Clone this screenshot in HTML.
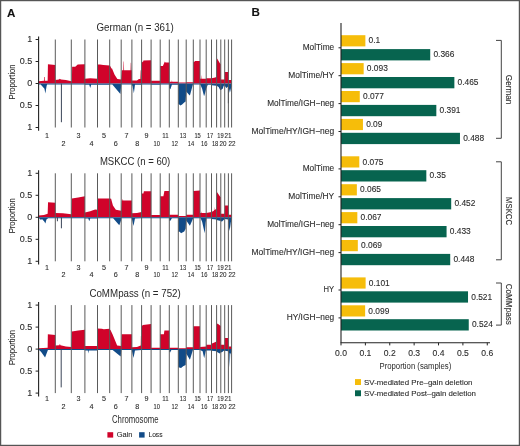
<!DOCTYPE html><html><head><meta charset="utf-8"><style>html,body{margin:0;padding:0;background:#fff;overflow:hidden}svg{display:block;filter:blur(0.3px)}</style></head><body>
<svg width="520" height="446" viewBox="0 0 520 446" font-family="Liberation Sans, sans-serif">
<style>text{stroke:#2a2a2a;stroke-width:0.1px;paint-order:stroke}text.n{stroke:none}</style>
<rect x="0" y="0" width="520" height="446" fill="#fff"/>
<rect x="0.6" y="0.6" width="518.8" height="444.8" fill="none" stroke="#555" stroke-width="1.25"/>
<text x="7.1" y="16.5" font-size="11.6" font-weight="bold" fill="#111">A</text>
<text x="251.6" y="16.2" font-size="11.6" font-weight="bold" fill="#111">B</text>
<text x="135.10" y="30.90" font-size="10.1" fill="#2a2a2a" text-anchor="middle" textLength="77.2" lengthAdjust="spacingAndGlyphs" class="n">German (n = 361)</text>
<text transform="translate(14.6,81.95) rotate(-90)" font-size="9" fill="#2a2a2a" text-anchor="middle" textLength="34.9" lengthAdjust="spacingAndGlyphs">Proportion</text>
<text x="32.30" y="42.30" font-size="9.0" fill="#2a2a2a" text-anchor="end">1</text>
<line x1="35.6" y1="39.50" x2="38.6" y2="39.50" stroke="#222222" stroke-width="1"/>
<text x="32.30" y="64.30" font-size="9.0" fill="#2a2a2a" text-anchor="end">0.5</text>
<line x1="35.6" y1="61.50" x2="38.6" y2="61.50" stroke="#222222" stroke-width="1"/>
<text x="32.30" y="86.30" font-size="9.0" fill="#2a2a2a" text-anchor="end">0</text>
<line x1="35.6" y1="83.50" x2="38.6" y2="83.50" stroke="#222222" stroke-width="1"/>
<text x="32.30" y="108.30" font-size="9.0" fill="#2a2a2a" text-anchor="end">0.5</text>
<line x1="35.6" y1="105.50" x2="38.6" y2="105.50" stroke="#222222" stroke-width="1"/>
<text x="32.30" y="130.30" font-size="9.0" fill="#2a2a2a" text-anchor="end">1</text>
<line x1="35.6" y1="127.50" x2="38.6" y2="127.50" stroke="#222222" stroke-width="1"/>
<path d="M38.60,83.50L38.60,81.30L43.97,80.86L44.07,76.90L44.66,76.90L44.76,80.86L47.65,80.86L47.94,64.14L55.30,65.02L55.30,79.98L58.90,79.54L59.90,78.66L60.90,79.54L65.90,79.98L71.30,81.30L71.30,81.30L71.92,81.30L72.13,66.78L75.25,66.78L77.74,64.58L84.90,64.14L84.90,78.66L90.23,78.22L97.50,78.66L97.50,64.58L99.92,64.58L103.31,65.02L109.70,65.46L109.70,65.46L110.61,66.78L111.62,68.98L111.92,67.66L112.22,68.98L114.64,74.70L117.37,79.10L121.20,79.54L121.20,79.10L122.02,70.30L123.36,70.30L123.57,61.50L123.88,61.50L124.08,70.30L130.56,70.30L130.77,62.82L131.08,62.82L131.28,70.30L131.90,70.30L131.90,80.42L136.95,80.42L138.93,79.10L140.21,79.10L140.41,70.30L140.71,70.30L140.91,79.10L141.60,79.10L141.60,62.82L142.40,61.50L142.90,62.38L143.40,60.62L151.10,60.18L151.10,80.64L160.20,80.64L160.20,65.90L162.90,65.90L164.40,62.38L164.90,61.50L165.40,62.38L169.30,62.38L169.30,81.74L171.70,81.74L171.90,79.98L172.20,81.74L178.30,81.74L178.30,82.62L186.20,82.62L186.20,82.18L193.30,82.18L193.30,62.38L195.24,61.06L200.00,61.06L200.00,78.66L200.91,78.66L201.12,74.70L201.42,78.66L206.20,78.66L206.20,78.22L211.50,78.22L211.50,78.22L214.10,77.78L216.60,76.90L216.60,61.50L217.11,58.42L219.88,63.26L220.80,64.14L220.80,79.54L224.70,79.54L224.70,72.06L228.40,72.06L228.40,79.98L231.60,79.98L231.60,83.50Z" fill="#D0032A"/>
<path d="M38.60,83.50L38.60,84.38L40.69,84.38L44.46,88.78L45.36,93.62L46.65,85.70L47.15,84.38L55.30,84.38L55.30,84.38L71.30,84.38L71.30,84.38L84.90,84.38L84.90,84.82L89.26,84.82L90.23,87.90L91.20,84.82L97.50,84.82L97.50,84.82L109.70,84.82L109.70,84.38L112.32,84.38L120.39,94.06L121.20,85.70L121.20,84.38L131.90,84.38L131.90,85.26L132.49,85.70L133.88,93.18L134.97,84.82L141.60,84.82L141.60,84.38L151.10,84.38L151.10,84.82L160.20,84.82L160.20,84.38L169.30,84.38L169.30,87.90L170.40,89.22L171.90,84.82L178.30,84.82L178.30,103.74L180.51,105.50L182.09,104.62L184.20,102.42L185.67,101.54L186.20,91.42L186.20,91.42L188.80,94.50L189.90,95.38L192.90,84.38L193.30,84.38L193.30,84.38L200.00,84.38L200.00,84.38L200.41,84.82L202.13,88.78L204.07,96.26L204.68,94.50L206.20,88.78L206.20,88.78L207.77,84.82L211.50,84.82L211.50,85.26L216.60,85.70L216.60,85.70L218.65,87.02L220.19,90.10L220.80,90.10L220.80,90.10L222.70,88.78L223.70,85.70L224.70,85.26L224.70,85.70L226.38,87.90L228.40,86.14L228.40,86.14L229.91,92.74L231.24,87.02L231.60,86.14L231.60,83.50Z" fill="#114B88"/>
<line x1="61.40" y1="83.50" x2="61.40" y2="122.22" stroke="#3a4558" stroke-width="1"/>
<line x1="228.40" y1="83.50" x2="228.40" y2="103.30" stroke="#3a4558" stroke-width="1"/>
<line x1="38.6" y1="36.50" x2="38.6" y2="130.80" stroke="#222222" stroke-width="1.1"/>
<line x1="55.30" y1="39.50" x2="55.30" y2="127.50" stroke="#5a5a5a" stroke-width="1"/>
<line x1="71.30" y1="39.50" x2="71.30" y2="127.50" stroke="#5a5a5a" stroke-width="1"/>
<line x1="84.90" y1="39.50" x2="84.90" y2="127.50" stroke="#5a5a5a" stroke-width="1"/>
<line x1="97.50" y1="39.50" x2="97.50" y2="127.50" stroke="#5a5a5a" stroke-width="1"/>
<line x1="109.70" y1="39.50" x2="109.70" y2="127.50" stroke="#5a5a5a" stroke-width="1"/>
<line x1="121.20" y1="39.50" x2="121.20" y2="127.50" stroke="#5a5a5a" stroke-width="1"/>
<line x1="131.90" y1="39.50" x2="131.90" y2="127.50" stroke="#5a5a5a" stroke-width="1"/>
<line x1="141.60" y1="39.50" x2="141.60" y2="127.50" stroke="#5a5a5a" stroke-width="1"/>
<line x1="151.10" y1="39.50" x2="151.10" y2="127.50" stroke="#5a5a5a" stroke-width="1"/>
<line x1="160.20" y1="39.50" x2="160.20" y2="127.50" stroke="#5a5a5a" stroke-width="1"/>
<line x1="169.30" y1="39.50" x2="169.30" y2="127.50" stroke="#5a5a5a" stroke-width="1"/>
<line x1="178.30" y1="39.50" x2="178.30" y2="127.50" stroke="#5a5a5a" stroke-width="1"/>
<line x1="186.20" y1="39.50" x2="186.20" y2="127.50" stroke="#5a5a5a" stroke-width="1"/>
<line x1="193.30" y1="39.50" x2="193.30" y2="127.50" stroke="#5a5a5a" stroke-width="1"/>
<line x1="200.00" y1="39.50" x2="200.00" y2="127.50" stroke="#5a5a5a" stroke-width="1"/>
<line x1="206.20" y1="39.50" x2="206.20" y2="127.50" stroke="#5a5a5a" stroke-width="1"/>
<line x1="211.50" y1="39.50" x2="211.50" y2="127.50" stroke="#5a5a5a" stroke-width="1"/>
<line x1="216.60" y1="39.50" x2="216.60" y2="127.50" stroke="#5a5a5a" stroke-width="1"/>
<line x1="220.80" y1="39.50" x2="220.80" y2="127.50" stroke="#5a5a5a" stroke-width="1"/>
<line x1="224.70" y1="39.50" x2="224.70" y2="127.50" stroke="#5a5a5a" stroke-width="1"/>
<line x1="228.40" y1="39.50" x2="228.40" y2="127.50" stroke="#5a5a5a" stroke-width="1"/>
<line x1="231.60" y1="39.50" x2="231.60" y2="127.50" stroke="#5a5a5a" stroke-width="1"/>
<text x="47.10" y="137.80" font-size="7.2" fill="#2a2a2a" text-anchor="middle">1</text>
<text x="63.60" y="145.50" font-size="7.2" fill="#2a2a2a" text-anchor="middle">2</text>
<text x="78.50" y="137.80" font-size="7.2" fill="#2a2a2a" text-anchor="middle">3</text>
<text x="91.50" y="145.50" font-size="7.2" fill="#2a2a2a" text-anchor="middle">4</text>
<text x="104.00" y="137.80" font-size="7.2" fill="#2a2a2a" text-anchor="middle">5</text>
<text x="115.80" y="145.50" font-size="7.2" fill="#2a2a2a" text-anchor="middle">6</text>
<text x="126.60" y="137.80" font-size="7.2" fill="#2a2a2a" text-anchor="middle">7</text>
<text x="137.30" y="145.50" font-size="7.2" fill="#2a2a2a" text-anchor="middle">8</text>
<text x="146.60" y="137.80" font-size="7.2" fill="#2a2a2a" text-anchor="middle">9</text>
<text x="156.80" y="145.50" font-size="7.2" fill="#2a2a2a" text-anchor="middle" textLength="6.4" lengthAdjust="spacingAndGlyphs">10</text>
<text x="165.40" y="137.80" font-size="7.2" fill="#2a2a2a" text-anchor="middle" textLength="6.4" lengthAdjust="spacingAndGlyphs">11</text>
<text x="174.70" y="145.50" font-size="7.2" fill="#2a2a2a" text-anchor="middle" textLength="6.4" lengthAdjust="spacingAndGlyphs">12</text>
<text x="183.00" y="137.80" font-size="7.2" fill="#2a2a2a" text-anchor="middle" textLength="6.4" lengthAdjust="spacingAndGlyphs">13</text>
<text x="190.90" y="145.50" font-size="7.2" fill="#2a2a2a" text-anchor="middle" textLength="6.4" lengthAdjust="spacingAndGlyphs">14</text>
<text x="197.60" y="137.80" font-size="7.2" fill="#2a2a2a" text-anchor="middle" textLength="6.4" lengthAdjust="spacingAndGlyphs">15</text>
<text x="204.30" y="145.50" font-size="7.2" fill="#2a2a2a" text-anchor="middle" textLength="6.4" lengthAdjust="spacingAndGlyphs">16</text>
<text x="210.10" y="137.80" font-size="7.2" fill="#2a2a2a" text-anchor="middle" textLength="6.4" lengthAdjust="spacingAndGlyphs">17</text>
<text x="215.10" y="145.50" font-size="7.2" fill="#2a2a2a" text-anchor="middle" textLength="6.4" lengthAdjust="spacingAndGlyphs">18</text>
<text x="220.50" y="137.80" font-size="7.2" fill="#2a2a2a" text-anchor="middle" textLength="6.4" lengthAdjust="spacingAndGlyphs">19</text>
<text x="222.90" y="145.50" font-size="7.2" fill="#2a2a2a" text-anchor="middle" textLength="7.0" lengthAdjust="spacingAndGlyphs">20</text>
<text x="227.90" y="137.80" font-size="7.2" fill="#2a2a2a" text-anchor="middle" textLength="7.0" lengthAdjust="spacingAndGlyphs">21</text>
<text x="231.90" y="145.50" font-size="7.2" fill="#2a2a2a" text-anchor="middle" textLength="7.0" lengthAdjust="spacingAndGlyphs">22</text>
<text x="135.10" y="164.70" font-size="10.1" fill="#2a2a2a" text-anchor="middle" textLength="70.4" lengthAdjust="spacingAndGlyphs" class="n">MSKCC (n = 60)</text>
<text transform="translate(14.6,215.75) rotate(-90)" font-size="9" fill="#2a2a2a" text-anchor="middle" textLength="34.9" lengthAdjust="spacingAndGlyphs">Proportion</text>
<text x="32.30" y="176.10" font-size="9.0" fill="#2a2a2a" text-anchor="end">1</text>
<line x1="35.6" y1="173.30" x2="38.6" y2="173.30" stroke="#222222" stroke-width="1"/>
<text x="32.30" y="198.10" font-size="9.0" fill="#2a2a2a" text-anchor="end">0.5</text>
<line x1="35.6" y1="195.30" x2="38.6" y2="195.30" stroke="#222222" stroke-width="1"/>
<text x="32.30" y="220.10" font-size="9.0" fill="#2a2a2a" text-anchor="end">0</text>
<line x1="35.6" y1="217.30" x2="38.6" y2="217.30" stroke="#222222" stroke-width="1"/>
<text x="32.30" y="242.10" font-size="9.0" fill="#2a2a2a" text-anchor="end">0.5</text>
<line x1="35.6" y1="239.30" x2="38.6" y2="239.30" stroke="#222222" stroke-width="1"/>
<text x="32.30" y="264.10" font-size="9.0" fill="#2a2a2a" text-anchor="end">1</text>
<line x1="35.6" y1="261.30" x2="38.6" y2="261.30" stroke="#222222" stroke-width="1"/>
<path d="M38.60,217.30L38.60,215.54L43.97,215.10L47.65,213.78L48.04,202.34L55.30,202.78L55.30,212.90L62.90,213.34L71.30,214.22L71.30,213.78L71.92,198.38L78.15,197.50L84.90,196.18L84.90,212.46L90.23,211.14L95.08,209.38L97.50,209.82L97.50,198.38L109.70,198.38L109.70,198.38L111.11,198.82L112.93,205.42L115.85,209.82L121.20,210.70L121.20,210.70L121.71,200.58L122.54,200.58L122.74,198.82L123.15,200.58L131.90,200.58L131.90,213.34L136.95,212.90L141.60,212.02L141.60,193.54L143.40,193.54L143.90,191.34L151.10,191.34L151.10,215.10L160.20,215.10L160.20,196.18L163.40,196.18L164.40,190.90L169.30,190.90L169.30,214.66L178.30,214.66L178.30,215.98L186.20,215.98L186.20,214.66L193.30,214.66L193.30,190.90L200.00,190.46L200.00,212.90L200.91,212.90L201.12,211.14L201.42,212.90L206.20,212.90L206.20,212.90L211.50,212.02L211.50,212.02L213.90,210.70L214.10,206.74L214.40,210.26L216.60,208.50L216.60,193.10L217.11,192.22L220.39,197.06L220.80,197.06L220.80,213.78L224.70,213.78L224.70,205.42L228.40,205.42L228.40,214.66L231.60,214.66L231.60,217.30Z" fill="#D0032A"/>
<path d="M38.60,217.30L38.60,218.18L39.49,218.62L40.99,219.94L41.98,219.06L44.46,221.70L45.36,223.46L46.45,219.50L48.14,218.18L55.30,218.18L55.30,218.18L71.30,218.18L71.30,218.18L84.90,218.18L84.90,218.62L88.29,218.62L89.26,221.26L90.23,218.62L97.50,218.62L97.50,218.18L109.70,218.18L109.70,218.18L113.13,218.18L119.28,225.22L121.20,219.94L121.20,218.18L131.90,218.18L131.90,219.06L133.48,226.10L134.97,218.62L141.60,218.18L141.60,218.18L151.10,218.18L151.10,218.18L160.20,218.18L160.20,218.18L169.30,218.18L169.30,220.82L170.40,220.82L171.90,218.18L178.30,218.18L178.30,231.82L179.77,231.82L181.04,233.14L184.20,231.38L185.67,228.74L186.20,220.38L186.20,220.38L189.90,225.66L193.20,218.18L193.30,218.18L193.30,218.18L200.00,218.18L200.00,218.18L200.61,218.18L202.13,221.70L204.68,233.14L205.69,222.58L206.20,219.50L206.20,218.62L211.50,218.62L211.50,219.06L216.60,219.50L216.60,219.94L219.67,220.82L220.80,220.82L220.80,220.82L221.70,221.70L224.70,219.06L224.70,219.06L228.40,219.50L228.40,219.94L228.84,226.10L229.64,230.94L230.80,222.58L231.60,219.50L231.60,217.30Z" fill="#114B88"/>
<line x1="61.40" y1="217.30" x2="61.40" y2="228.30" stroke="#3a4558" stroke-width="1"/>
<line x1="57.40" y1="217.30" x2="57.40" y2="221.26" stroke="#3a4558" stroke-width="1"/>
<line x1="38.6" y1="170.30" x2="38.6" y2="264.60" stroke="#222222" stroke-width="1.1"/>
<line x1="55.30" y1="173.30" x2="55.30" y2="261.30" stroke="#5a5a5a" stroke-width="1"/>
<line x1="71.30" y1="173.30" x2="71.30" y2="261.30" stroke="#5a5a5a" stroke-width="1"/>
<line x1="84.90" y1="173.30" x2="84.90" y2="261.30" stroke="#5a5a5a" stroke-width="1"/>
<line x1="97.50" y1="173.30" x2="97.50" y2="261.30" stroke="#5a5a5a" stroke-width="1"/>
<line x1="109.70" y1="173.30" x2="109.70" y2="261.30" stroke="#5a5a5a" stroke-width="1"/>
<line x1="121.20" y1="173.30" x2="121.20" y2="261.30" stroke="#5a5a5a" stroke-width="1"/>
<line x1="131.90" y1="173.30" x2="131.90" y2="261.30" stroke="#5a5a5a" stroke-width="1"/>
<line x1="141.60" y1="173.30" x2="141.60" y2="261.30" stroke="#5a5a5a" stroke-width="1"/>
<line x1="151.10" y1="173.30" x2="151.10" y2="261.30" stroke="#5a5a5a" stroke-width="1"/>
<line x1="160.20" y1="173.30" x2="160.20" y2="261.30" stroke="#5a5a5a" stroke-width="1"/>
<line x1="169.30" y1="173.30" x2="169.30" y2="261.30" stroke="#5a5a5a" stroke-width="1"/>
<line x1="178.30" y1="173.30" x2="178.30" y2="261.30" stroke="#5a5a5a" stroke-width="1"/>
<line x1="186.20" y1="173.30" x2="186.20" y2="261.30" stroke="#5a5a5a" stroke-width="1"/>
<line x1="193.30" y1="173.30" x2="193.30" y2="261.30" stroke="#5a5a5a" stroke-width="1"/>
<line x1="200.00" y1="173.30" x2="200.00" y2="261.30" stroke="#5a5a5a" stroke-width="1"/>
<line x1="206.20" y1="173.30" x2="206.20" y2="261.30" stroke="#5a5a5a" stroke-width="1"/>
<line x1="211.50" y1="173.30" x2="211.50" y2="261.30" stroke="#5a5a5a" stroke-width="1"/>
<line x1="216.60" y1="173.30" x2="216.60" y2="261.30" stroke="#5a5a5a" stroke-width="1"/>
<line x1="220.80" y1="173.30" x2="220.80" y2="261.30" stroke="#5a5a5a" stroke-width="1"/>
<line x1="224.70" y1="173.30" x2="224.70" y2="261.30" stroke="#5a5a5a" stroke-width="1"/>
<line x1="228.40" y1="173.30" x2="228.40" y2="261.30" stroke="#5a5a5a" stroke-width="1"/>
<line x1="231.60" y1="173.30" x2="231.60" y2="261.30" stroke="#5a5a5a" stroke-width="1"/>
<text x="47.10" y="269.50" font-size="7.2" fill="#2a2a2a" text-anchor="middle">1</text>
<text x="63.60" y="277.40" font-size="7.2" fill="#2a2a2a" text-anchor="middle">2</text>
<text x="78.50" y="269.50" font-size="7.2" fill="#2a2a2a" text-anchor="middle">3</text>
<text x="91.50" y="277.40" font-size="7.2" fill="#2a2a2a" text-anchor="middle">4</text>
<text x="104.00" y="269.50" font-size="7.2" fill="#2a2a2a" text-anchor="middle">5</text>
<text x="115.80" y="277.40" font-size="7.2" fill="#2a2a2a" text-anchor="middle">6</text>
<text x="126.60" y="269.50" font-size="7.2" fill="#2a2a2a" text-anchor="middle">7</text>
<text x="137.30" y="277.40" font-size="7.2" fill="#2a2a2a" text-anchor="middle">8</text>
<text x="146.60" y="269.50" font-size="7.2" fill="#2a2a2a" text-anchor="middle">9</text>
<text x="156.80" y="277.40" font-size="7.2" fill="#2a2a2a" text-anchor="middle" textLength="6.4" lengthAdjust="spacingAndGlyphs">10</text>
<text x="165.40" y="269.50" font-size="7.2" fill="#2a2a2a" text-anchor="middle" textLength="6.4" lengthAdjust="spacingAndGlyphs">11</text>
<text x="174.70" y="277.40" font-size="7.2" fill="#2a2a2a" text-anchor="middle" textLength="6.4" lengthAdjust="spacingAndGlyphs">12</text>
<text x="183.00" y="269.50" font-size="7.2" fill="#2a2a2a" text-anchor="middle" textLength="6.4" lengthAdjust="spacingAndGlyphs">13</text>
<text x="190.90" y="277.40" font-size="7.2" fill="#2a2a2a" text-anchor="middle" textLength="6.4" lengthAdjust="spacingAndGlyphs">14</text>
<text x="197.60" y="269.50" font-size="7.2" fill="#2a2a2a" text-anchor="middle" textLength="6.4" lengthAdjust="spacingAndGlyphs">15</text>
<text x="204.30" y="277.40" font-size="7.2" fill="#2a2a2a" text-anchor="middle" textLength="6.4" lengthAdjust="spacingAndGlyphs">16</text>
<text x="210.10" y="269.50" font-size="7.2" fill="#2a2a2a" text-anchor="middle" textLength="6.4" lengthAdjust="spacingAndGlyphs">17</text>
<text x="215.10" y="277.40" font-size="7.2" fill="#2a2a2a" text-anchor="middle" textLength="6.4" lengthAdjust="spacingAndGlyphs">18</text>
<text x="220.50" y="269.50" font-size="7.2" fill="#2a2a2a" text-anchor="middle" textLength="6.4" lengthAdjust="spacingAndGlyphs">19</text>
<text x="222.90" y="277.40" font-size="7.2" fill="#2a2a2a" text-anchor="middle" textLength="7.0" lengthAdjust="spacingAndGlyphs">20</text>
<text x="227.90" y="269.50" font-size="7.2" fill="#2a2a2a" text-anchor="middle" textLength="7.0" lengthAdjust="spacingAndGlyphs">21</text>
<text x="231.90" y="277.40" font-size="7.2" fill="#2a2a2a" text-anchor="middle" textLength="7.0" lengthAdjust="spacingAndGlyphs">22</text>
<text x="135.10" y="296.50" font-size="10.1" fill="#2a2a2a" text-anchor="middle" textLength="91.4" lengthAdjust="spacingAndGlyphs" class="n">CoMMpass (n = 752)</text>
<text transform="translate(14.6,347.55) rotate(-90)" font-size="9" fill="#2a2a2a" text-anchor="middle" textLength="34.9" lengthAdjust="spacingAndGlyphs">Proportion</text>
<text x="32.30" y="307.90" font-size="9.0" fill="#2a2a2a" text-anchor="end">1</text>
<line x1="35.6" y1="305.10" x2="38.6" y2="305.10" stroke="#222222" stroke-width="1"/>
<text x="32.30" y="329.90" font-size="9.0" fill="#2a2a2a" text-anchor="end">0.5</text>
<line x1="35.6" y1="327.10" x2="38.6" y2="327.10" stroke="#222222" stroke-width="1"/>
<text x="32.30" y="351.90" font-size="9.0" fill="#2a2a2a" text-anchor="end">0</text>
<line x1="35.6" y1="349.10" x2="38.6" y2="349.10" stroke="#222222" stroke-width="1"/>
<text x="32.30" y="373.90" font-size="9.0" fill="#2a2a2a" text-anchor="end">0.5</text>
<line x1="35.6" y1="371.10" x2="38.6" y2="371.10" stroke="#222222" stroke-width="1"/>
<text x="32.30" y="395.90" font-size="9.0" fill="#2a2a2a" text-anchor="end">1</text>
<line x1="35.6" y1="393.10" x2="38.6" y2="393.10" stroke="#222222" stroke-width="1"/>
<path d="M38.60,349.10L38.60,348.22L47.65,347.78L47.84,334.14L55.30,335.02L55.30,345.58L59.40,345.14L59.90,343.82L60.40,345.14L65.90,346.46L71.30,346.90L71.30,346.90L71.92,331.50L78.15,330.62L84.90,329.74L84.90,346.02L97.50,346.02L97.50,328.42L101.86,328.86L103.79,329.30L109.70,328.86L109.70,329.30L110.61,330.18L112.63,334.58L117.16,345.58L121.20,346.02L121.20,345.58L121.71,334.14L131.90,334.14L131.90,347.34L136.95,346.90L140.71,345.58L140.91,335.90L141.20,335.90L141.40,345.58L141.60,345.58L141.60,326.22L142.90,324.90L151.10,324.02L151.10,347.78L160.20,347.78L160.20,334.14L163.90,334.14L164.40,330.62L169.30,330.62L169.30,347.78L178.30,347.78L178.30,348.22L186.20,348.22L186.20,347.34L193.30,347.34L193.30,326.22L200.00,326.22L200.00,346.90L206.20,346.46L206.20,344.70L211.50,344.70L211.50,343.82L216.60,341.62L216.60,324.90L217.42,323.58L220.39,325.78L220.80,325.78L220.80,344.70L224.70,344.70L224.70,338.10L228.40,338.10L228.40,346.46L231.60,346.46L231.60,349.10Z" fill="#D0032A"/>
<path d="M38.60,349.10L38.60,349.98L39.00,349.98L40.99,351.74L45.06,357.46L47.45,351.30L47.94,349.98L55.30,349.98L55.30,349.98L71.30,349.98L71.30,349.98L84.90,349.98L84.90,350.42L87.81,350.42L88.29,353.50L88.78,350.42L97.50,350.42L97.50,349.98L109.70,349.98L109.70,349.98L112.63,349.98L120.70,356.58L121.20,351.30L121.20,349.98L131.90,349.98L131.90,350.86L133.48,357.90L134.97,350.42L141.60,349.98L141.60,349.98L151.10,349.98L151.10,349.98L160.20,349.98L160.20,349.98L169.30,349.98L169.30,351.74L170.10,352.62L171.40,349.98L178.30,349.98L178.30,367.14L181.04,368.02L183.15,366.26L185.67,364.94L186.20,354.38L186.20,353.50L189.90,359.66L192.90,349.98L193.30,349.98L193.30,349.98L200.00,349.98L200.00,349.98L202.64,351.30L204.17,358.34L205.69,351.30L206.20,350.42L206.20,350.42L211.50,350.42L211.50,350.86L216.60,351.30L216.60,351.74L219.67,353.50L220.80,352.62L220.80,351.74L221.70,352.62L223.70,350.86L224.70,350.86L224.70,350.86L228.40,351.30L228.40,351.74L229.29,353.50L229.73,367.58L230.18,354.38L231.60,351.30L231.60,349.10Z" fill="#114B88"/>
<line x1="61.20" y1="349.10" x2="61.20" y2="387.38" stroke="#3a4558" stroke-width="1"/>
<line x1="38.6" y1="302.10" x2="38.6" y2="396.40" stroke="#222222" stroke-width="1.1"/>
<line x1="55.30" y1="305.10" x2="55.30" y2="393.10" stroke="#5a5a5a" stroke-width="1"/>
<line x1="71.30" y1="305.10" x2="71.30" y2="393.10" stroke="#5a5a5a" stroke-width="1"/>
<line x1="84.90" y1="305.10" x2="84.90" y2="393.10" stroke="#5a5a5a" stroke-width="1"/>
<line x1="97.50" y1="305.10" x2="97.50" y2="393.10" stroke="#5a5a5a" stroke-width="1"/>
<line x1="109.70" y1="305.10" x2="109.70" y2="393.10" stroke="#5a5a5a" stroke-width="1"/>
<line x1="121.20" y1="305.10" x2="121.20" y2="393.10" stroke="#5a5a5a" stroke-width="1"/>
<line x1="131.90" y1="305.10" x2="131.90" y2="393.10" stroke="#5a5a5a" stroke-width="1"/>
<line x1="141.60" y1="305.10" x2="141.60" y2="393.10" stroke="#5a5a5a" stroke-width="1"/>
<line x1="151.10" y1="305.10" x2="151.10" y2="393.10" stroke="#5a5a5a" stroke-width="1"/>
<line x1="160.20" y1="305.10" x2="160.20" y2="393.10" stroke="#5a5a5a" stroke-width="1"/>
<line x1="169.30" y1="305.10" x2="169.30" y2="393.10" stroke="#5a5a5a" stroke-width="1"/>
<line x1="178.30" y1="305.10" x2="178.30" y2="393.10" stroke="#5a5a5a" stroke-width="1"/>
<line x1="186.20" y1="305.10" x2="186.20" y2="393.10" stroke="#5a5a5a" stroke-width="1"/>
<line x1="193.30" y1="305.10" x2="193.30" y2="393.10" stroke="#5a5a5a" stroke-width="1"/>
<line x1="200.00" y1="305.10" x2="200.00" y2="393.10" stroke="#5a5a5a" stroke-width="1"/>
<line x1="206.20" y1="305.10" x2="206.20" y2="393.10" stroke="#5a5a5a" stroke-width="1"/>
<line x1="211.50" y1="305.10" x2="211.50" y2="393.10" stroke="#5a5a5a" stroke-width="1"/>
<line x1="216.60" y1="305.10" x2="216.60" y2="393.10" stroke="#5a5a5a" stroke-width="1"/>
<line x1="220.80" y1="305.10" x2="220.80" y2="393.10" stroke="#5a5a5a" stroke-width="1"/>
<line x1="224.70" y1="305.10" x2="224.70" y2="393.10" stroke="#5a5a5a" stroke-width="1"/>
<line x1="228.40" y1="305.10" x2="228.40" y2="393.10" stroke="#5a5a5a" stroke-width="1"/>
<line x1="231.60" y1="305.10" x2="231.60" y2="393.10" stroke="#5a5a5a" stroke-width="1"/>
<text x="47.10" y="401.30" font-size="7.2" fill="#2a2a2a" text-anchor="middle">1</text>
<text x="63.60" y="409.30" font-size="7.2" fill="#2a2a2a" text-anchor="middle">2</text>
<text x="78.50" y="401.30" font-size="7.2" fill="#2a2a2a" text-anchor="middle">3</text>
<text x="91.50" y="409.30" font-size="7.2" fill="#2a2a2a" text-anchor="middle">4</text>
<text x="104.00" y="401.30" font-size="7.2" fill="#2a2a2a" text-anchor="middle">5</text>
<text x="115.80" y="409.30" font-size="7.2" fill="#2a2a2a" text-anchor="middle">6</text>
<text x="126.60" y="401.30" font-size="7.2" fill="#2a2a2a" text-anchor="middle">7</text>
<text x="137.30" y="409.30" font-size="7.2" fill="#2a2a2a" text-anchor="middle">8</text>
<text x="146.60" y="401.30" font-size="7.2" fill="#2a2a2a" text-anchor="middle">9</text>
<text x="156.80" y="409.30" font-size="7.2" fill="#2a2a2a" text-anchor="middle" textLength="6.4" lengthAdjust="spacingAndGlyphs">10</text>
<text x="165.40" y="401.30" font-size="7.2" fill="#2a2a2a" text-anchor="middle" textLength="6.4" lengthAdjust="spacingAndGlyphs">11</text>
<text x="174.70" y="409.30" font-size="7.2" fill="#2a2a2a" text-anchor="middle" textLength="6.4" lengthAdjust="spacingAndGlyphs">12</text>
<text x="183.00" y="401.30" font-size="7.2" fill="#2a2a2a" text-anchor="middle" textLength="6.4" lengthAdjust="spacingAndGlyphs">13</text>
<text x="190.90" y="409.30" font-size="7.2" fill="#2a2a2a" text-anchor="middle" textLength="6.4" lengthAdjust="spacingAndGlyphs">14</text>
<text x="197.60" y="401.30" font-size="7.2" fill="#2a2a2a" text-anchor="middle" textLength="6.4" lengthAdjust="spacingAndGlyphs">15</text>
<text x="204.30" y="409.30" font-size="7.2" fill="#2a2a2a" text-anchor="middle" textLength="6.4" lengthAdjust="spacingAndGlyphs">16</text>
<text x="210.10" y="401.30" font-size="7.2" fill="#2a2a2a" text-anchor="middle" textLength="6.4" lengthAdjust="spacingAndGlyphs">17</text>
<text x="215.10" y="409.30" font-size="7.2" fill="#2a2a2a" text-anchor="middle" textLength="6.4" lengthAdjust="spacingAndGlyphs">18</text>
<text x="220.50" y="401.30" font-size="7.2" fill="#2a2a2a" text-anchor="middle" textLength="6.4" lengthAdjust="spacingAndGlyphs">19</text>
<text x="222.90" y="409.30" font-size="7.2" fill="#2a2a2a" text-anchor="middle" textLength="7.0" lengthAdjust="spacingAndGlyphs">20</text>
<text x="227.90" y="401.30" font-size="7.2" fill="#2a2a2a" text-anchor="middle" textLength="7.0" lengthAdjust="spacingAndGlyphs">21</text>
<text x="231.90" y="409.30" font-size="7.2" fill="#2a2a2a" text-anchor="middle" textLength="7.0" lengthAdjust="spacingAndGlyphs">22</text>
<text x="135.25" y="422.70" font-size="10" fill="#2a2a2a" text-anchor="middle" textLength="46.5" lengthAdjust="spacingAndGlyphs" class="n">Chromosome</text>
<rect x="107.4" y="432.2" width="5.8" height="5.4" fill="#D0032A"/>
<text x="116.80" y="437.30" font-size="8.1" fill="#2a2a2a" textLength="15.7" lengthAdjust="spacingAndGlyphs">Gain</text>
<rect x="139.1" y="432.2" width="5.5" height="5.4" fill="#114B88"/>
<text x="148.40" y="437.30" font-size="8.1" fill="#2a2a2a" textLength="14.2" lengthAdjust="spacingAndGlyphs">Loss</text>
<rect x="341.00" y="35.20" width="24.38" height="11.20" fill="#F6BD0A"/>
<rect x="341.00" y="49.10" width="89.23" height="11.30" fill="#07644F"/>
<text x="368.58" y="43.41" font-size="8.4" fill="#2a2a2a">0.1</text>
<text x="433.43" y="57.36" font-size="8.4" fill="#2a2a2a">0.366</text>
<line x1="338.50" y1="47.80" x2="341.00" y2="47.80" stroke="#222222" stroke-width="1"/>
<text x="334.20" y="50.20" font-size="8.6" fill="#2a2a2a" text-anchor="end" textLength="31.5" lengthAdjust="spacingAndGlyphs">MolTime</text>
<rect x="341.00" y="63.10" width="22.67" height="11.20" fill="#F6BD0A"/>
<rect x="341.00" y="77.00" width="113.37" height="11.30" fill="#07644F"/>
<text x="366.87" y="71.31" font-size="8.4" fill="#2a2a2a">0.093</text>
<text x="457.57" y="85.26" font-size="8.4" fill="#2a2a2a">0.465</text>
<line x1="338.50" y1="75.70" x2="341.00" y2="75.70" stroke="#222222" stroke-width="1"/>
<text x="334.20" y="78.10" font-size="8.6" fill="#2a2a2a" text-anchor="end" textLength="46.0" lengthAdjust="spacingAndGlyphs">MolTime/HY</text>
<rect x="341.00" y="91.00" width="18.77" height="11.20" fill="#F6BD0A"/>
<rect x="341.00" y="104.90" width="95.33" height="11.30" fill="#07644F"/>
<text x="362.97" y="99.21" font-size="8.4" fill="#2a2a2a">0.077</text>
<text x="439.53" y="113.16" font-size="8.4" fill="#2a2a2a">0.391</text>
<line x1="338.50" y1="103.60" x2="341.00" y2="103.60" stroke="#222222" stroke-width="1"/>
<text x="334.20" y="106.00" font-size="8.6" fill="#2a2a2a" text-anchor="end" textLength="67.0" lengthAdjust="spacingAndGlyphs">MolTime/IGH−neg</text>
<rect x="341.00" y="118.90" width="21.94" height="11.20" fill="#F6BD0A"/>
<rect x="341.00" y="132.80" width="118.97" height="11.30" fill="#07644F"/>
<text x="366.14" y="127.11" font-size="8.4" fill="#2a2a2a">0.09</text>
<text x="463.17" y="141.06" font-size="8.4" fill="#2a2a2a">0.488</text>
<line x1="338.50" y1="131.50" x2="341.00" y2="131.50" stroke="#222222" stroke-width="1"/>
<text x="334.20" y="133.90" font-size="8.6" fill="#2a2a2a" text-anchor="end" textLength="82.7" lengthAdjust="spacingAndGlyphs">MolTime/HY/IGH−neg</text>
<rect x="341.00" y="156.30" width="18.29" height="11.20" fill="#F6BD0A"/>
<rect x="341.00" y="170.20" width="85.33" height="11.30" fill="#07644F"/>
<text x="362.49" y="164.51" font-size="8.4" fill="#2a2a2a">0.075</text>
<text x="429.53" y="178.46" font-size="8.4" fill="#2a2a2a">0.35</text>
<line x1="338.50" y1="168.90" x2="341.00" y2="168.90" stroke="#222222" stroke-width="1"/>
<text x="334.20" y="171.30" font-size="8.6" fill="#2a2a2a" text-anchor="end" textLength="31.5" lengthAdjust="spacingAndGlyphs">MolTime</text>
<rect x="341.00" y="184.20" width="15.85" height="11.20" fill="#F6BD0A"/>
<rect x="341.00" y="198.10" width="110.20" height="11.30" fill="#07644F"/>
<text x="360.05" y="192.41" font-size="8.4" fill="#2a2a2a">0.065</text>
<text x="454.40" y="206.36" font-size="8.4" fill="#2a2a2a">0.452</text>
<line x1="338.50" y1="196.80" x2="341.00" y2="196.80" stroke="#222222" stroke-width="1"/>
<text x="334.20" y="199.20" font-size="8.6" fill="#2a2a2a" text-anchor="end" textLength="46.0" lengthAdjust="spacingAndGlyphs">MolTime/HY</text>
<rect x="341.00" y="212.10" width="16.33" height="11.20" fill="#F6BD0A"/>
<rect x="341.00" y="226.00" width="105.57" height="11.30" fill="#07644F"/>
<text x="360.53" y="220.31" font-size="8.4" fill="#2a2a2a">0.067</text>
<text x="449.77" y="234.26" font-size="8.4" fill="#2a2a2a">0.433</text>
<line x1="338.50" y1="224.70" x2="341.00" y2="224.70" stroke="#222222" stroke-width="1"/>
<text x="334.20" y="227.10" font-size="8.6" fill="#2a2a2a" text-anchor="end" textLength="67.0" lengthAdjust="spacingAndGlyphs">MolTime/IGH−neg</text>
<rect x="341.00" y="240.00" width="16.82" height="11.20" fill="#F6BD0A"/>
<rect x="341.00" y="253.90" width="109.22" height="11.30" fill="#07644F"/>
<text x="361.02" y="248.21" font-size="8.4" fill="#2a2a2a">0.069</text>
<text x="453.42" y="262.16" font-size="8.4" fill="#2a2a2a">0.448</text>
<line x1="338.50" y1="252.60" x2="341.00" y2="252.60" stroke="#222222" stroke-width="1"/>
<text x="334.20" y="255.00" font-size="8.6" fill="#2a2a2a" text-anchor="end" textLength="82.7" lengthAdjust="spacingAndGlyphs">MolTime/HY/IGH−neg</text>
<rect x="341.00" y="277.40" width="24.62" height="11.20" fill="#F6BD0A"/>
<rect x="341.00" y="291.30" width="127.02" height="11.30" fill="#07644F"/>
<text x="368.82" y="285.61" font-size="8.4" fill="#2a2a2a">0.101</text>
<text x="471.22" y="299.56" font-size="8.4" fill="#2a2a2a">0.521</text>
<line x1="338.50" y1="290.00" x2="341.00" y2="290.00" stroke="#222222" stroke-width="1"/>
<text x="334.20" y="292.40" font-size="8.6" fill="#2a2a2a" text-anchor="end" textLength="10.6" lengthAdjust="spacingAndGlyphs">HY</text>
<rect x="341.00" y="305.30" width="24.14" height="11.20" fill="#F6BD0A"/>
<rect x="341.00" y="319.20" width="127.75" height="11.30" fill="#07644F"/>
<text x="368.34" y="313.51" font-size="8.4" fill="#2a2a2a">0.099</text>
<text x="471.95" y="327.46" font-size="8.4" fill="#2a2a2a">0.524</text>
<line x1="338.50" y1="317.90" x2="341.00" y2="317.90" stroke="#222222" stroke-width="1"/>
<text x="334.20" y="320.30" font-size="8.6" fill="#2a2a2a" text-anchor="end" textLength="47.5" lengthAdjust="spacingAndGlyphs">HY/IGH−neg</text>
<line x1="341.00" y1="23" x2="341.00" y2="342.7" stroke="#222222" stroke-width="1.1"/>
<line x1="340.50" y1="342.7" x2="490" y2="342.7" stroke="#222222" stroke-width="1.1"/>
<line x1="341.00" y1="342.7" x2="341.00" y2="345.4" stroke="#222222" stroke-width="1"/>
<text x="341.00" y="356.00" font-size="8.6" fill="#2a2a2a" text-anchor="middle">0.0</text>
<line x1="365.38" y1="342.7" x2="365.38" y2="345.4" stroke="#222222" stroke-width="1"/>
<text x="365.38" y="356.00" font-size="8.6" fill="#2a2a2a" text-anchor="middle">0.1</text>
<line x1="389.76" y1="342.7" x2="389.76" y2="345.4" stroke="#222222" stroke-width="1"/>
<text x="389.76" y="356.00" font-size="8.6" fill="#2a2a2a" text-anchor="middle">0.2</text>
<line x1="414.14" y1="342.7" x2="414.14" y2="345.4" stroke="#222222" stroke-width="1"/>
<text x="414.14" y="356.00" font-size="8.6" fill="#2a2a2a" text-anchor="middle">0.3</text>
<line x1="438.52" y1="342.7" x2="438.52" y2="345.4" stroke="#222222" stroke-width="1"/>
<text x="438.52" y="356.00" font-size="8.6" fill="#2a2a2a" text-anchor="middle">0.4</text>
<line x1="462.90" y1="342.7" x2="462.90" y2="345.4" stroke="#222222" stroke-width="1"/>
<text x="462.90" y="356.00" font-size="8.6" fill="#2a2a2a" text-anchor="middle">0.5</text>
<line x1="487.28" y1="342.7" x2="487.28" y2="345.4" stroke="#222222" stroke-width="1"/>
<text x="487.28" y="356.00" font-size="8.6" fill="#2a2a2a" text-anchor="middle">0.6</text>
<text x="415.40" y="368.80" font-size="9.6" fill="#2a2a2a" text-anchor="middle" textLength="71.8" lengthAdjust="spacingAndGlyphs" class="n">Proportion (samples)</text>
<rect x="355.0" y="379.1" width="6.0" height="5.9" fill="#F6BD0A"/>
<text x="364.10" y="384.60" font-size="7.8" fill="#2a2a2a" textLength="108.4" lengthAdjust="spacingAndGlyphs">SV-mediated Pre–gain deletion</text>
<rect x="355.0" y="390.3" width="6.0" height="5.9" fill="#07644F"/>
<text x="364.10" y="395.70" font-size="7.8" fill="#2a2a2a" textLength="111.9" lengthAdjust="spacingAndGlyphs">SV-mediated Post–gain deletion</text>
<path d="M496,40.40H501.3V138.30H496" fill="none" stroke="#444" stroke-width="1"/>
<text transform="translate(505.9,89.55) rotate(90)" font-size="8.8" fill="#2a2a2a" text-anchor="middle" textLength="29.5" lengthAdjust="spacingAndGlyphs">German</text>
<path d="M496,161.80H501.3V259.80H496" fill="none" stroke="#444" stroke-width="1"/>
<text transform="translate(505.9,211.00) rotate(90)" font-size="8.8" fill="#2a2a2a" text-anchor="middle" textLength="28.0" lengthAdjust="spacingAndGlyphs">MSKCC</text>
<path d="M496,283.00H501.3V325.10H496" fill="none" stroke="#444" stroke-width="1"/>
<text transform="translate(505.9,304.25) rotate(90)" font-size="8.8" fill="#2a2a2a" text-anchor="middle" textLength="41.1" lengthAdjust="spacingAndGlyphs">CoMMpass</text>
</svg></body></html>
